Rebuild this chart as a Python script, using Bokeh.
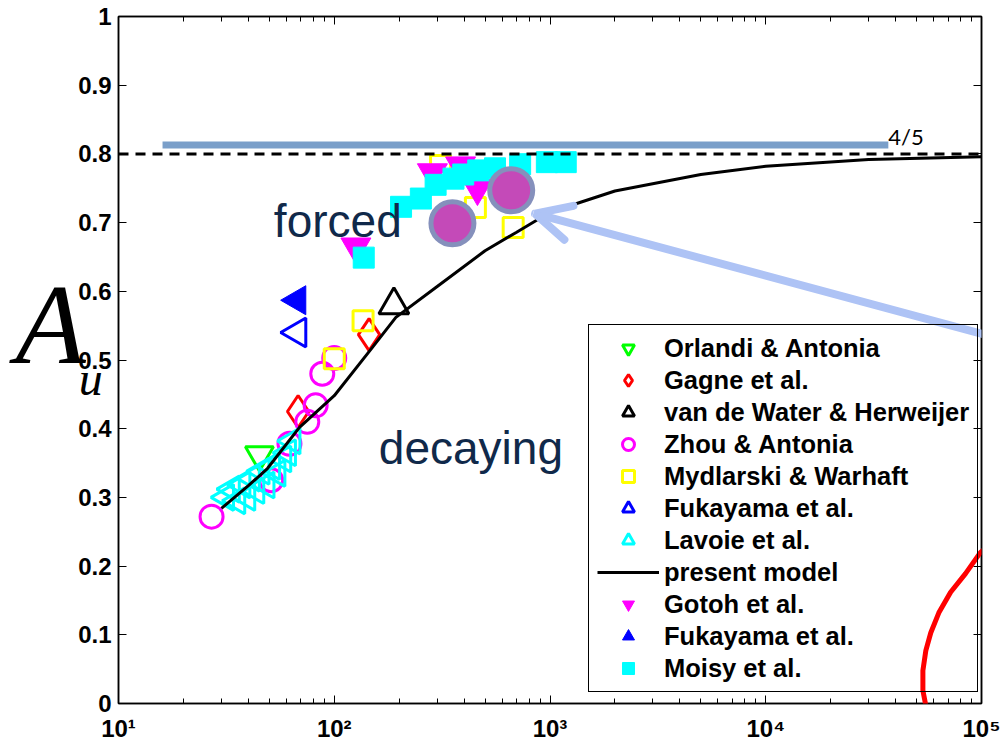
from bokeh.plotting import figure
from bokeh.models import (FixedTicker, CustomJSTickFormatter, LinearAxis, LogAxis,
                          Legend, LegendItem, Label, Arrow, OpenHead, PolyAnnotation, Span)
from bokeh.embed import file_html
from bokeh.resources import INLINE

# ---------------- data ----------------
orlandi_x = [45]
orlandi_y = [0.362]

gagne_x = [68, 145]
gagne_y = [0.425, 0.537]

vdw_x = [189]
vdw_y = [0.580]

zhou_x = [27, 51, 62, 75, 82, 88, 100]
zhou_y = [0.272, 0.325, 0.378, 0.410, 0.434, 0.480, 0.503]

myd_x = [100, 136, 311, 451, 675]
myd_y = [0.502, 0.557, 0.783, 0.722, 0.693]

fuk_open_x = [67.5]
fuk_open_y = [0.540]

lav_x = [31.5, 33.5, 35.5, 37.5, 39.5, 41.5, 43.5, 46.0, 48.5, 51.5, 54.5, 58.0, 61.0, 64.0]
lav_y = [0.300, 0.312, 0.295, 0.318, 0.300, 0.328, 0.310, 0.338, 0.318, 0.345, 0.335, 0.356, 0.365, 0.382]

model_x = [30, 40, 49, 69, 100, 150, 193, 300, 500, 700, 1000, 2000, 5000, 10000, 30000, 100000]
model_y = [0.284, 0.317, 0.342, 0.402, 0.448, 0.518, 0.562, 0.607, 0.659, 0.686, 0.715,
           0.746, 0.770, 0.782, 0.792, 0.796]

gotoh_x = [126, 285, 385, 461]
gotoh_y = [0.665, 0.773, 0.783, 0.750]

fuk_fill_x = [67.5]
fuk_fill_y = [0.587]

moisy_x = [137, 204, 252, 295, 357, 396, 465, 556, 727, 967, 1183]
moisy_y = [0.649, 0.723, 0.735, 0.755, 0.764, 0.770, 0.776, 0.779, 0.785, 0.788, 0.788]

highlight_x = [353, 661]
highlight_y = [0.699, 0.747]

limit_value = 0.8                 # 4/5 law (dashed)
band_x = [16, 37000]              # thick blue reference bar
band_y = [0.813, 0.813]

x_major = [10, 100, 1000, 10000, 100000]
x_minor = [m * 10 ** k for k in range(1, 5) for m in range(2, 10)]
y_major = [0, 0.1, 0.2, 0.3, 0.4, 0.5, 0.6, 0.7, 0.8, 0.9, 1.0]

# overlay annotation (hand-drawn arrow and red curve)
arrow_start = (136000, 0.527)
arrow_end = (853, 0.713)
curve_x = [136000, 122000, 98900, 84300, 71900, 63400, 58200, 55200, 53500, 53500, 55200,
           58900, 64700, 74300, 80900, 335000, 335000]
curve_y = [0.235, 0.243, 0.220, 0.189, 0.162, 0.132, 0.103, 0.077, 0.048, 0.019, -0.003,
           -0.022, -0.039, -0.060, -0.076, -0.1, 0.25]

# ---------------- figure ----------------
p = figure(width=1005, height=744, x_axis_type="log", x_range=(10, 1e5), y_range=(0, 1),
           output_backend="svg", toolbar_location=None,
           min_border_left=118, min_border_right=0, min_border_top=16, min_border_bottom=41)
p.xgrid.visible = False
p.ygrid.visible = False
p.background_fill_color = "white"
p.border_fill_color = "white"
p.outline_line_color = "black"
p.outline_line_width = 1.5

TICK_FONT = "Liberation Sans"

xt = FixedTicker(ticks=x_major, minor_ticks=x_minor)
yt = FixedTicker(ticks=y_major, minor_ticks=[])

xfmt = CustomJSTickFormatter(code="""
const s = '\u2070\u00b9\u00b2\u00b3\u2074\u2075\u2076\u2077\u2078\u2079';
return '10' + s[Math.round(Math.log10(tick))];
""")
yfmt = CustomJSTickFormatter(code=r"return tick.toFixed(1).replace(/\.0$/, '');")
blank = CustomJSTickFormatter(code="return '';")

for ax in p.xaxis:
    ax.ticker = xt
    ax.formatter = xfmt
for ax in p.yaxis:
    ax.ticker = yt
    ax.formatter = yfmt

for ax in list(p.xaxis) + list(p.yaxis):
    ax.axis_line_width = 1.5
    ax.axis_line_color = "black"
    ax.major_tick_in = 8
    ax.major_tick_out = 0
    ax.minor_tick_in = 5
    ax.minor_tick_out = 0
    ax.major_tick_line_color = "black"
    ax.minor_tick_line_color = "black"
    ax.major_label_text_font = TICK_FONT
    ax.major_label_text_font_style = "bold"
    ax.major_label_text_font_size = "24px"
    ax.major_label_text_color = "black"
p.yaxis.major_label_standoff = 7
p.xaxis.major_label_standoff = 11

right_ax = LinearAxis(ticker=yt, formatter=blank, major_tick_in=8, major_tick_out=0,
                      minor_tick_in=0, minor_tick_out=0, major_label_text_font_size="1px",
                      major_label_standoff=0, axis_line_width=1.5)
top_ax = LogAxis(ticker=xt, formatter=blank, major_tick_in=8, major_tick_out=0,
                 minor_tick_in=5, minor_tick_out=0, major_label_text_font_size="1px",
                 major_label_standoff=0, axis_line_width=1.5)
p.add_layout(right_ax, "right")
p.add_layout(top_ax, "above")

# reference lines
p.add_layout(Span(location=limit_value, dimension="width", line_color="black",
                  line_width=3, line_dash="10 7"))
p.line(band_x, band_y, line_color="#7a9fc9", line_width=7)

LW = 3
r_orl = p.scatter(orlandi_x, orlandi_y, marker="inverted_triangle", size=28,
                  fill_color=None, line_color="#00ff00", line_width=LW)
r_gag = p.scatter(gagne_x, gagne_y, marker="diamond", size=32,
                  fill_color=None, line_color="#ff0000", line_width=LW)
r_vdw = p.scatter(vdw_x, vdw_y, marker="triangle", size=30,
                  fill_color=None, line_color="black", line_width=LW)
r_zho = p.scatter(zhou_x, zhou_y, marker="circle", size=23,
                  fill_color=None, line_color="#ff00ff", line_width=LW)
r_myd = p.scatter(myd_x, myd_y, marker="square", size=20,
                  fill_color=None, line_color="#ffff00", line_width=LW)
r_fuo = p.scatter(fuk_open_x, fuk_open_y, marker="triangle", angle=1.5708, size=29,
                  fill_color=None, line_color="#0000ff", line_width=LW)
r_lav = p.scatter(lav_x, lav_y, marker="triangle", angle=1.5708, size=26,
                  fill_color=None, line_color="#00ffff", line_width=LW)
r_mod = p.line(model_x, model_y, line_color="black", line_width=3)
r_got = p.scatter(gotoh_x, gotoh_y, marker="inverted_triangle", size=30,
                  fill_color="#ff00ff", line_color="#ff00ff", line_width=1)
r_fuf = p.scatter(fuk_fill_x, fuk_fill_y, marker="triangle", angle=1.5708, size=29,
                  fill_color="#0000ff", line_color="#0000ff", line_width=1)
r_moi = p.scatter(moisy_x, moisy_y, marker="square", size=21,
                  fill_color="#00ffff", line_color="#00ffff", line_width=1)
p.scatter(highlight_x, highlight_y, marker="circle", size=43,
          fill_color="#c44ab8", line_color="#8590bc", line_width=5)

# in-plot texts (middle baseline)
p.add_layout(Label(x=52.5, y=0.702, text="forced", text_font="Liberation Sans",
                   text_font_size="46px", text_color="#10294a", text_baseline="middle"))
p.add_layout(Label(x=161, y=0.372, text="decaying", text_font="Liberation Sans",
                   text_font_size="46px", text_color="#10294a", text_baseline="middle"))
p.add_layout(Label(x=band_x[1], y=0.826, text="4/5", text_font="Lato",
                   text_font_size="22px", text_color="black", text_baseline="middle"))

# hand-drawn overlay annotations
p.add_layout(Arrow(x_start=arrow_start[0], y_start=arrow_start[1],
                   x_end=arrow_end[0], y_end=arrow_end[1],
                   line_color="#aec3f5", line_width=8, line_cap="round", level="annotation",
                   end=OpenHead(size=35, line_color="#aec3f5", line_width=8, line_cap="round")))
p.add_layout(PolyAnnotation(xs=curve_x, ys=curve_y, fill_alpha=0, line_alpha=1,
                            line_color="#ff0000", line_width=5, line_join="round",
                            level="annotation"))

# legend (transparent body so that the hand-drawn curve stays visible across it)
items = [
    LegendItem(label="Orlandi & Antonia", renderers=[r_orl]),
    LegendItem(label="Gagne et al.", renderers=[r_gag]),
    LegendItem(label="van de Water & Herweijer", renderers=[r_vdw]),
    LegendItem(label="Zhou & Antonia", renderers=[r_zho]),
    LegendItem(label="Mydlarski & Warhaft", renderers=[r_myd]),
    LegendItem(label="Fukayama et al.", renderers=[r_fuo]),
    LegendItem(label="Lavoie et al.", renderers=[r_lav]),
    LegendItem(label="present model", renderers=[r_mod]),
    LegendItem(label="Gotoh et al.", renderers=[r_got]),
    LegendItem(label="Fukayama et al.", renderers=[r_fuf]),
    LegendItem(label="Moisy et al.", renderers=[r_moi]),
]
legend = Legend(items=items, location=(470, 11), padding=8, spacing=2,
                glyph_width=62, glyph_height=30, label_height=30, label_standoff=5,
                label_text_font=TICK_FONT, label_text_font_style="bold",
                label_text_font_size="25.5px", label_text_color="black",
                border_line_color="black", border_line_width=1.5, border_line_alpha=1,
                background_fill_color="white", background_fill_alpha=0, margin=0,
                level="annotation")
p.add_layout(legend)

# y-axis label  A_u  (placed in side panels so that it is not clipped by the frame)
p.add_layout(Label(x=3.33, y=0.552, text="A", text_font="Liberation Serif",
                   text_font_style="italic", text_font_size="115px", text_color="black",
                   text_baseline="middle"), "left")
p.add_layout(Label(x=6.55, y=0.473, text="u", text_font="Liberation Serif",
                   text_font_style="italic", text_font_size="48px", text_color="black",
                   text_baseline="middle"), "right")

open("out.html", "w").write(file_html(p, INLINE))
